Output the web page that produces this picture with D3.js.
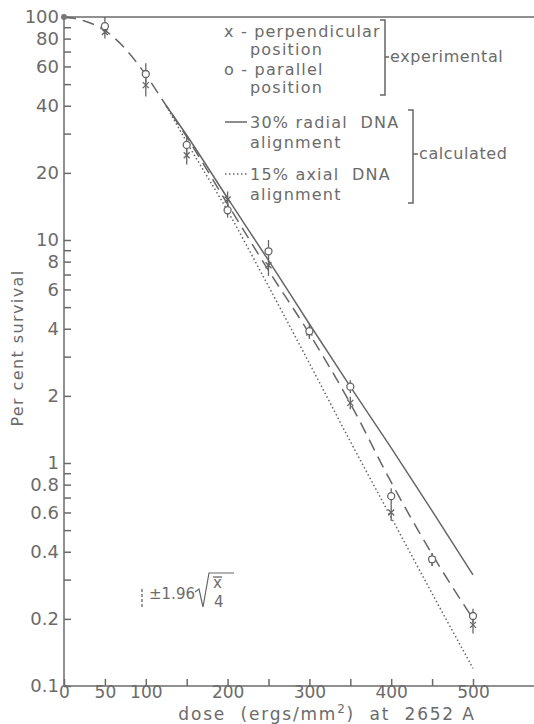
<!DOCTYPE html>
<html>
<head>
<meta charset="utf-8">
<script src="https://cdn.jsdelivr.net/npm/d3@7"></script>
<style>
  body { margin: 0; background: #fff; }
  svg text { font-family: "DejaVu Sans", sans-serif; fill: #6b6b6b; white-space: pre; }
  .axis line { stroke: #6b6b6b; stroke-width: 1.5; }
  .axis path { display: none; }
  .frame { stroke: #6b6b6b; stroke-width: 1.5; }
  .curve { fill: none; stroke: #666; stroke-width: 1.5; }
  .mark { fill: #fff; stroke: #666; stroke-width: 1.3; }
  .err { stroke: #666; stroke-width: 1.3; }
</style>
</head>
<body>
<div id="chart"></div>
<script>
// experimental points
var doses = [50, 100, 150, 200, 250, 300, 350, 400, 450, 500];
var parallel   = [91, 55.5, 26.7, 13.6, 8.9, 3.9, 2.2, 0.71, 0.37, 0.206];
var parallelLo = [84, 51, 24.5, 12.6, 8.2, 3.65, 2.06, 0.65, 0.345, 0.192];
var parallelHi = [100, 62, 29.5, 14.8, 10, 4.2, 2.35, 0.77, 0.395, 0.222];
var perp   = [85.6, 49.5, 24, 15.2, 7.7, 3.85, 1.86, 0.60, 0.37, 0.188];
var perpLo = [80, 44, 21.8, 14, 6.9, 3.6, 1.74, 0.55, 0.345, 0.172];
var perpHi = [92, 53, 26, 16.5, 8.4, 4.1, 1.98, 0.65, 0.395, 0.204];

// curves
var dashDose = [0, 25, 50, 75, 100, 125, 150, 200, 250, 300, 350, 400, 450, 500];
var dashVal  = [100, 96, 87, 72, 55, 40, 29, 14.5, 7.3, 3.8, 1.85, 0.82, 0.39, 0.2];
var calcDose = [125, 150, 200, 250, 300, 350, 400, 450, 500];
var radialVal = [40, 29.5, 15.4, 8.1, 4.2, 2.2, 1.17, 0.61, 0.315];
var axialVal  = [40, 27.5, 13.5, 6.2, 2.8, 1.25, 0.57, 0.26, 0.12];

// axis ticks
var yLabelTicks = [0.1, 0.2, 0.4, 0.6, 0.8, 1, 2, 4, 6, 8, 10, 20, 40, 60, 80, 100];
var yMinorTicks = [0.3, 0.5, 0.7, 0.9, 3, 5, 7, 9, 30, 50, 70, 90];
var xTicks = [0, 50, 100, 150, 200, 250, 300, 350, 400, 450, 500];
var xLabels = [0, 50, 100, 200, 300, 400, 500];

var W = 534, H = 724;
var svg = d3.select("#chart").append("svg")
    .attr("width", W).attr("height", H);

var x = d3.scaleLinear().domain([0, 500]).range([64, 473]);
var y = d3.scaleLog().domain([0.1, 100]).range([686, 17]);

// frame: left, top and bottom lines (open to the right)
svg.append("line").attr("class", "frame")
    .attr("x1", x(0)).attr("x2", x(0)).attr("y1", y(100)).attr("y2", y(0.1));
svg.append("line").attr("class", "frame")
    .attr("x1", x(0)).attr("x2", W).attr("y1", y(100)).attr("y2", y(100));
svg.append("line").attr("class", "frame")
    .attr("x1", x(0)).attr("x2", W).attr("y1", y(0.1)).attr("y2", y(0.1));

// Y axis
var yAxis = svg.append("g").attr("class", "axis")
    .attr("transform", "translate(" + x(0) + ",0)")
    .call(d3.axisLeft(y).tickValues(yLabelTicks).tickSize(-7).tickPadding(5)
        .tickFormat(d3.format("~g")));
yAxis.selectAll("text").style("font-size", "18px");
svg.append("g").attr("class", "axis")
    .attr("transform", "translate(" + x(0) + ",0)")
    .call(d3.axisLeft(y).tickValues(yMinorTicks).tickSize(-7).tickFormat(""));

// X axis
var xAxis = svg.append("g").attr("class", "axis")
    .attr("transform", "translate(0," + y(0.1) + ")")
    .call(d3.axisBottom(x).tickValues(xTicks).tickSize(-7).tickPadding(0)
        .tickFormat(function(d) { return xLabels.indexOf(d) >= 0 ? d : ""; }));
xAxis.selectAll("text").style("font-size", "17px").attr("dy", "0.72em");

// axis titles
var xt = svg.append("text")
    .attr("x", 327).attr("y", 720)
    .attr("text-anchor", "middle")
    .style("font-size", "17px")
    .style("letter-spacing", "1.8px");
xt.append("tspan").text("dose  (ergs/mm");
xt.append("tspan").attr("dy", -7).style("font-size", "12px").text("2");
xt.append("tspan").attr("dy", 7).text(")  at  2652 A");

svg.append("text")
    .attr("transform", "translate(23,348) rotate(-90)")
    .attr("text-anchor", "middle")
    .style("font-size", "16px")
    .style("letter-spacing", "1.4px")
    .text("Per cent survival");

// curves
var line = d3.line()
    .x(function(d) { return x(d[0]); })
    .y(function(d) { return y(d[1]); })
    .curve(d3.curveMonotoneX);

svg.append("path").attr("class", "curve")
    .attr("d", line(d3.zip(dashDose, dashVal)))
    .attr("stroke-dasharray", "12,7");
svg.append("path").attr("class", "curve")
    .attr("d", line(d3.zip(calcDose, radialVal)));
svg.append("path").attr("class", "curve")
    .attr("d", line(d3.zip(calcDose, axialVal)))
    .attr("stroke-dasharray", "1.5,2.5");

// error bars
doses.forEach(function(d, i) {
    svg.append("line").attr("class", "err")
        .attr("x1", x(d)).attr("x2", x(d))
        .attr("y1", y(parallelLo[i])).attr("y2", y(parallelHi[i]));
    svg.append("line").attr("class", "err")
        .attr("x1", x(d)).attr("x2", x(d))
        .attr("y1", y(perpLo[i])).attr("y2", y(perpHi[i]));
});

// perpendicular: x marks
doses.forEach(function(d, i) {
    var cx = x(d), cy = y(perp[i]), s = 3;
    svg.append("path").attr("class", "err")
        .attr("d", "M" + (cx - s) + "," + (cy - s) + "L" + (cx + s) + "," + (cy + s) +
                   "M" + (cx + s) + "," + (cy - s) + "L" + (cx - s) + "," + (cy + s));
});

// parallel: open circles
svg.selectAll("circle.par")
    .data(doses)
    .enter().append("circle")
    .attr("class", "mark")
    .attr("cx", function(d) { return x(d); })
    .attr("cy", function(d, i) { return y(parallel[i]); })
    .attr("r", 3.5);

// origin dot
svg.append("circle")
    .attr("cx", x(0)).attr("cy", y(100)).attr("r", 3)
    .attr("fill", "#777");

// legend
function label(tx, ty, str, size, ls) {
    return svg.append("text").attr("x", tx).attr("y", ty)
        .style("font-size", (size || 16) + "px")
        .style("letter-spacing", (ls === undefined ? 1.2 : ls) + "px")
        .text(str);
}
label(224, 37, "x - perpendicular");
label(250, 55, "position");
label(224, 75, "o - parallel");
label(250, 93, "position");
label(250, 128, "30% radial  DNA");
label(250, 148, "alignment");
label(250, 180, "15% axial  DNA");
label(250, 200, "alignment");
label(390, 62, "experimental", 16, 0.6);
label(419, 159, "calculated", 16, 0.6);

svg.append("line").attr("class", "curve")
    .attr("x1", 225).attr("x2", 247).attr("y1", 122).attr("y2", 122);
svg.append("line").attr("class", "curve")
    .attr("x1", 225).attr("x2", 249).attr("y1", 174).attr("y2", 174)
    .attr("stroke-dasharray", "1.5,2.5");

// brackets
svg.append("path").attr("class", "curve")
    .attr("d", "M380,20 L385,20 L385,95 L380,95 M385,57 L389,57");
svg.append("path").attr("class", "curve")
    .attr("d", "M408,110 L413,110 L413,203 L408,203 M413,154 L418,154");

// error legend
svg.append("line").attr("class", "err")
    .attr("x1", 142).attr("x2", 142).attr("y1", 589).attr("y2", 607)
    .attr("stroke-dasharray", "3,2");
label(149, 599, "\u00b11.96", 15, 0);
svg.append("path").attr("class", "curve").style("stroke-width", 1.2)
    .attr("d", "M195,592 L199,589 L203,607 L209,573 L234,573");
label(213, 588, "x", 15, 0);
svg.append("line").attr("class", "err")
    .attr("x1", 213).attr("x2", 222).attr("y1", 577).attr("y2", 577);
label(214, 607, "4", 15, 0);
</script>
</body>
</html>
